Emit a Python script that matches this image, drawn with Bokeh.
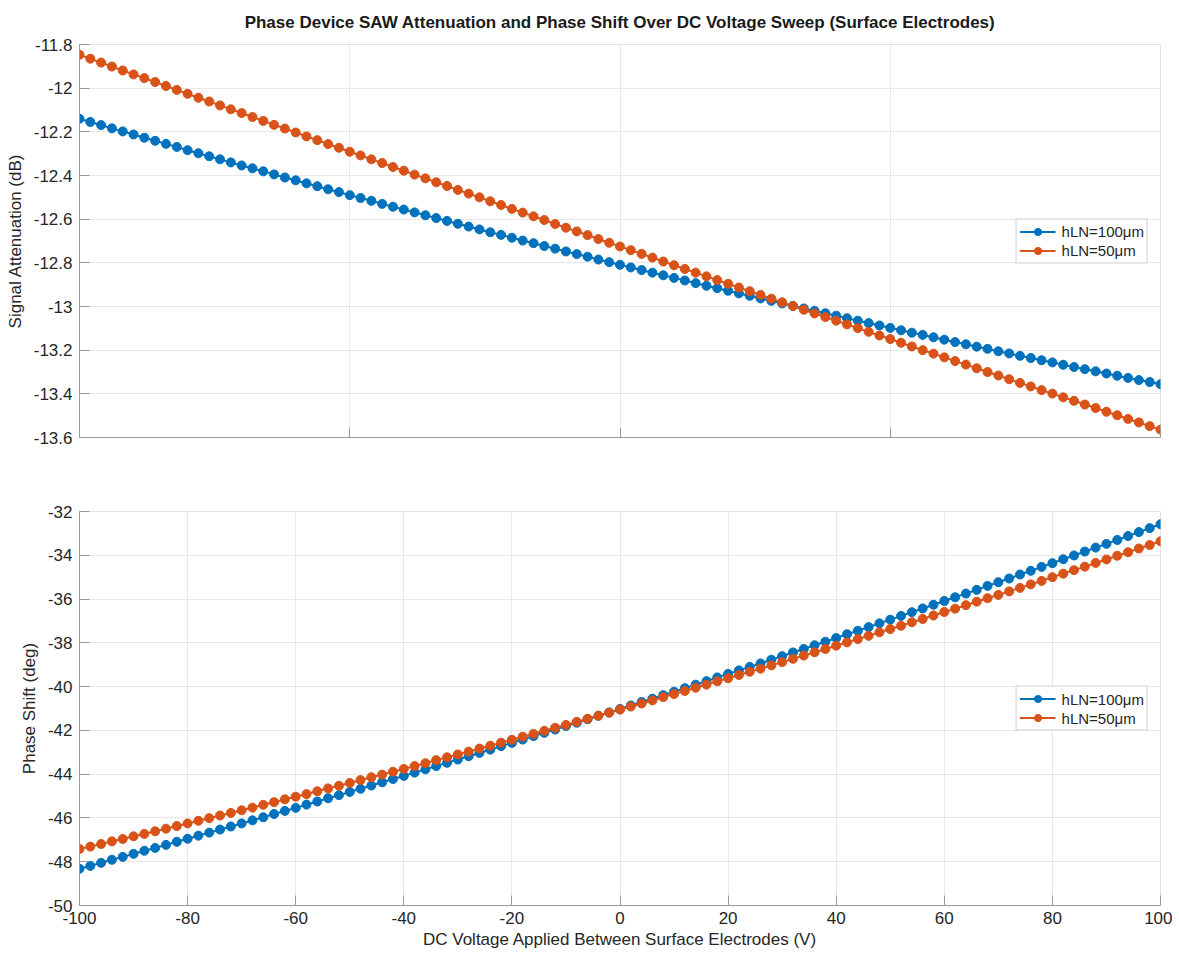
from bokeh.plotting import figure
from bokeh.layouts import column
from bokeh.models import FixedTicker, Range1d
from bokeh.embed import file_html
from bokeh.resources import INLINE

# ---------------- data ----------------
voltage = [-100, -98, -96, -94, -92, -90, -88, -86, -84, -82, -80, -78, -76, -74, -72, -70,
           -68, -66, -64, -62, -60, -58, -56, -54, -52, -50, -48, -46, -44, -42, -40, -38,
           -36, -34, -32, -30, -28, -26, -24, -22, -20, -18, -16, -14, -12, -10, -8, -6,
           -4, -2, 0, 2, 4, 6, 8, 10, 12, 14, 16, 18, 20, 22, 24, 26, 28, 30, 32, 34, 36,
           38, 40, 42, 44, 46, 48, 50, 52, 54, 56, 58, 60, 62, 64, 66, 68, 70, 72, 74, 76,
           78, 80, 82, 84, 86, 88, 90, 92, 94, 96, 98, 100]

atten_100 = [-12.140, -12.155, -12.169, -12.184, -12.198, -12.212, -12.227, -12.241, -12.255,
             -12.269, -12.284, -12.298, -12.312, -12.326, -12.340, -12.354, -12.367, -12.381,
             -12.395, -12.409, -12.422, -12.436, -12.449, -12.463, -12.476, -12.490, -12.503,
             -12.516, -12.530, -12.543, -12.556, -12.569, -12.582, -12.595, -12.608, -12.621,
             -12.634, -12.647, -12.660, -12.672, -12.685, -12.698, -12.710, -12.723, -12.735,
             -12.748, -12.760, -12.772, -12.785, -12.797, -12.809, -12.821, -12.833, -12.845,
             -12.857, -12.869, -12.881, -12.893, -12.905, -12.916, -12.928, -12.940, -12.951,
             -12.963, -12.974, -12.986, -12.997, -13.009, -13.020, -13.031, -13.042, -13.054,
             -13.065, -13.076, -13.087, -13.098, -13.109, -13.120, -13.130, -13.141, -13.152,
             -13.163, -13.173, -13.184, -13.194, -13.205, -13.215, -13.226, -13.236, -13.246,
             -13.256, -13.267, -13.277, -13.287, -13.297, -13.307, -13.317, -13.327, -13.337,
             -13.346, -13.356]

atten_50 = [-11.847, -11.865, -11.883, -11.901, -11.919, -11.937, -11.954, -11.972, -11.990,
            -12.008, -12.026, -12.044, -12.061, -12.079, -12.097, -12.114, -12.132, -12.150,
            -12.168, -12.185, -12.203, -12.221, -12.238, -12.256, -12.273, -12.291, -12.308,
            -12.326, -12.343, -12.361, -12.378, -12.396, -12.413, -12.431, -12.448, -12.466,
            -12.483, -12.500, -12.518, -12.535, -12.553, -12.570, -12.587, -12.604, -12.622,
            -12.639, -12.656, -12.673, -12.691, -12.708, -12.725, -12.742, -12.759, -12.776,
            -12.794, -12.811, -12.828, -12.845, -12.862, -12.879, -12.896, -12.913, -12.930,
            -12.947, -12.964, -12.981, -12.998, -13.015, -13.032, -13.048, -13.065, -13.082,
            -13.099, -13.116, -13.133, -13.149, -13.166, -13.183, -13.200, -13.216, -13.233,
            -13.250, -13.266, -13.283, -13.300, -13.316, -13.333, -13.350, -13.366, -13.383,
            -13.399, -13.416, -13.432, -13.449, -13.465, -13.482, -13.498, -13.515, -13.531,
            -13.548, -13.564]

phase_100 = [-48.32, -48.19, -48.05, -47.91, -47.78, -47.64, -47.50, -47.37, -47.23, -47.09,
             -46.95, -46.81, -46.67, -46.53, -46.39, -46.25, -46.11, -45.97, -45.82, -45.68,
             -45.54, -45.39, -45.25, -45.10, -44.96, -44.81, -44.67, -44.52, -44.37, -44.22,
             -44.08, -43.93, -43.78, -43.63, -43.48, -43.33, -43.18, -43.03, -42.88, -42.72,
             -42.57, -42.42, -42.26, -42.11, -41.96, -41.80, -41.65, -41.49, -41.33, -41.18,
             -41.02, -40.86, -40.70, -40.55, -40.39, -40.23, -40.07, -39.91, -39.75, -39.58,
             -39.42, -39.26, -39.10, -38.94, -38.77, -38.61, -38.44, -38.28, -38.11, -37.95,
             -37.78, -37.61, -37.45, -37.28, -37.11, -36.94, -36.77, -36.60, -36.43, -36.26,
             -36.09, -35.92, -35.75, -35.58, -35.40, -35.23, -35.06, -34.88, -34.71, -34.53,
             -34.36, -34.18, -34.01, -33.83, -33.65, -33.48, -33.30, -33.12, -32.94, -32.76,
             -32.58]

phase_50 = [-47.42, -47.31, -47.19, -47.07, -46.96, -46.84, -46.73, -46.61, -46.49, -46.37,
            -46.25, -46.13, -46.01, -45.89, -45.77, -45.65, -45.53, -45.40, -45.28, -45.15,
            -45.03, -44.91, -44.78, -44.65, -44.53, -44.40, -44.27, -44.14, -44.02, -43.89,
            -43.76, -43.63, -43.50, -43.36, -43.23, -43.10, -42.97, -42.83, -42.70, -42.56,
            -42.43, -42.29, -42.16, -42.02, -41.88, -41.75, -41.61, -41.47, -41.33, -41.19,
            -41.05, -40.91, -40.77, -40.63, -40.48, -40.34, -40.20, -40.05, -39.91, -39.76,
            -39.62, -39.47, -39.32, -39.18, -39.03, -38.88, -38.73, -38.58, -38.43, -38.28,
            -38.13, -37.98, -37.83, -37.68, -37.52, -37.37, -37.22, -37.06, -36.91, -36.75,
            -36.59, -36.44, -36.28, -36.12, -35.96, -35.81, -35.65, -35.49, -35.33, -35.17,
            -35.00, -34.84, -34.68, -34.52, -34.35, -34.19, -34.02, -33.86, -33.69, -33.53,
            -33.36]

series_labels = ["hLN=100\u03bcm", "hLN=50\u03bcm"]

atten_ticks = [-13.6, -13.4, -13.2, -13.0, -12.8, -12.6, -12.4, -12.2, -12.0, -11.8]
atten_tick_labels = ["-13.6", "-13.4", "-13.2", "-13", "-12.8", "-12.6", "-12.4", "-12.2", "-12", "-11.8"]
phase_ticks = [-50, -48, -46, -44, -42, -40, -38, -36, -34, -32]
phase_tick_labels = ["-50", "-48", "-46", "-44", "-42", "-40", "-38", "-36", "-34", "-32"]
top_x_ticks = [-100, -50, 0, 50, 100]
bottom_x_ticks = [-100, -80, -60, -40, -20, 0, 20, 40, 60, 80, 100]
bottom_x_tick_labels = ["-100", "-80", "-60", "-40", "-20", "0", "20", "40", "60", "80", "100"]

title_text = "Phase Device SAW Attenuation and Phase Shift Over DC Voltage Sweep (Surface Electrodes)"
xlabel_text = "DC Voltage Applied Between Surface Electrodes (V)"
ylabel_top = "Signal Attenuation (dB)"
ylabel_bottom = "Phase Shift (deg)"

# ---------------- style ----------------
BLUE = "#0072BD"
ORANGE = "#D95319"
FONT = "Liberation Sans"
TEXT = "#262626"
AXIS = "#9a9a9a"
GRID = "#e8e8e8"
FS = "17px"


def style(p):
    p.background_fill_color = "white"
    p.border_fill_color = "white"
    p.outline_line_color = "#e2e2e2"
    p.grid.grid_line_color = GRID
    p.grid.grid_line_width = 1
    for ax in (p.xaxis[0], p.yaxis[0]):
        ax.axis_line_color = AXIS
        ax.axis_line_width = 1
        ax.major_tick_line_color = AXIS
        ax.major_tick_in = 10
        ax.major_tick_out = 0
        ax.minor_tick_line_color = None
        ax.major_label_text_font = FONT
        ax.major_label_text_font_size = FS
        ax.major_label_text_color = TEXT
        ax.axis_label_text_font = FONT
        ax.axis_label_text_font_size = FS
        ax.axis_label_text_font_style = "normal"
        ax.axis_label_text_color = TEXT
    p.yaxis[0].major_label_standoff = 7
    p.yaxis[0].axis_label_standoff = 6
    p.xaxis[0].major_label_standoff = 6
    p.xaxis[0].axis_label_standoff = 3


def draw(p, ys, labels):
    for y, col, lab in zip(ys, [BLUE, ORANGE], labels):
        p.line(voltage, y, line_color=col, line_width=2, legend_label=lab)
        p.scatter(voltage, y, size=9, marker="circle", fill_color=col, line_color=col,
                  legend_label=lab)
    lg = p.legend[0]
    lg.location = "right"
    lg.margin = 12
    lg.padding = 3
    lg.spacing = 1
    lg.glyph_width = 36
    lg.glyph_height = 18
    lg.label_height = 18
    lg.label_standoff = 6
    lg.label_text_font = FONT
    lg.label_text_font_size = "15px"
    lg.label_text_color = TEXT
    lg.border_line_color = "#a0a0a0"
    lg.border_line_width = 1
    lg.background_fill_alpha = 1


W = 1172
p1 = figure(width=W, height=467, x_range=Range1d(-100, 100), y_range=Range1d(-13.6, -11.8),
            output_backend="svg", toolbar_location=None,
            min_border_left=79, min_border_right=12, min_border_top=44, min_border_bottom=30)
style(p1)
draw(p1, [atten_100, atten_50], series_labels)
p1.xaxis.ticker = FixedTicker(ticks=top_x_ticks)
p1.xaxis.major_label_overrides = {t: "" for t in top_x_ticks}
p1.yaxis.ticker = FixedTicker(ticks=atten_ticks)
p1.yaxis.major_label_overrides = dict(zip(atten_ticks, atten_tick_labels))
p1.yaxis.axis_label = ylabel_top
p1.title.text = title_text
p1.title.align = "center"
p1.title.vertical_align = "top"
p1.title.text_font = FONT
p1.title.text_font_size = FS
p1.title.text_font_style = "bold"
p1.title.text_color = "#1a1a1a"
p1.title.standoff = 21

p2 = figure(width=W, height=488, x_range=Range1d(-100, 100), y_range=Range1d(-50, -32),
            output_backend="svg", toolbar_location=None,
            min_border_left=79, min_border_right=12, min_border_top=44, min_border_bottom=50)
style(p2)
draw(p2, [phase_100, phase_50], series_labels)
p2.xaxis.ticker = FixedTicker(ticks=bottom_x_ticks)
p2.xaxis.major_label_overrides = dict(zip(bottom_x_ticks, bottom_x_tick_labels))
p2.yaxis.ticker = FixedTicker(ticks=phase_ticks)
p2.yaxis.major_label_overrides = dict(zip(phase_ticks, phase_tick_labels))
p2.yaxis.axis_label = ylabel_bottom
p2.xaxis.axis_label = xlabel_text

layout = column(p1, p2, spacing=0)
open("out.html", "w").write(file_html(layout, INLINE))
